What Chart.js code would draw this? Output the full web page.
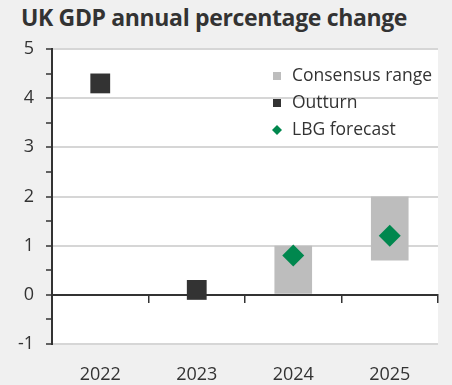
<!DOCTYPE html>
<html>
<head>
<meta charset="utf-8">
<script src="https://cdn.jsdelivr.net/npm/chart.js@4/dist/chart.umd.min.js"></script>
<style>
  html, body { margin: 0; padding: 0; background: #f0f0f0; }
  #wrap { position: relative; width: 452px; height: 385px; }
  #title { position: absolute; left: 21px; top: 1px; font-family: "Open Sans", sans-serif; font-weight: 700; font-size: 23px; color: #333; letter-spacing: -0.35px; white-space: nowrap; }
  canvas { position: absolute; left: 0; top: 0; }
</style>
</head>
<body>
<div id="wrap">
  <div id="title">UK GDP annual percentage change</div>
  <canvas id="c" width="452" height="385"></canvas>
</div>
<script>
const categories = ['2022', '2023', '2024', '2025'];
const consensusRange = [null, null, [0, 1.0], [0.7, 2.0]];
const outturn = [4.3, 0.1, null, null];
const lbgForecast = [null, null, 0.8, 1.2];
const seriesNames = ['Consensus range', 'Outturn', 'LBG forecast'];
const yMin = -1, yMax = 5;

const FONT = '"Open Sans", sans-serif';
const GREEN = '#00874e';
const DARK = '#333333';
const GREY = '#bdbdbd';
const GRIDC = '#d6d6d6';

const bgPlugin = {
  id: 'bg',
  beforeDraw(chart) {
    const {ctx, chartArea: a} = chart;
    ctx.save();
    ctx.fillStyle = '#ffffff';
    ctx.fillRect(a.left, a.top, a.right - a.left, a.bottom - a.top);
    ctx.restore();
  }
};

const legendPlugin = {
  id: 'insideLegend',
  afterDraw(chart) {
    const {ctx, chartArea: a} = chart;
    const x0 = a.left + 225;
    const rows = [a.top + 27, a.top + 54, a.top + 81];
    ctx.save();
    ctx.font = '17.5px ' + FONT;
    ctx.textBaseline = 'middle';
    chart.data.datasets.slice().reverse().forEach((ds, i) => {
      const y = rows[i];
      ctx.fillStyle = ds.legendColor;
      if (ds.pointStyle === 'rectRot') {
        ctx.beginPath();
        ctx.moveTo(x0, y - 5); ctx.lineTo(x0 + 5, y); ctx.lineTo(x0, y + 5); ctx.lineTo(x0 - 5, y);
        ctx.closePath(); ctx.fill();
      } else {
        ctx.fillRect(x0 - 4, y - 4, 8, 8);
      }
      ctx.fillStyle = DARK;
      ctx.fillText(ds.label, x0 + 15, y);
    });
    ctx.restore();
  }
};

new Chart(document.getElementById('c'), {
  data: {
    labels: categories,
    datasets: [
      {
        type: 'line', label: seriesNames[2], data: lbgForecast, showLine: false,
        pointStyle: 'rectRot', pointRadius: 11, pointHoverRadius: 11,
        backgroundColor: GREEN, borderColor: GREEN, borderWidth: 0, legendColor: GREEN, order: 1
      },
      {
        type: 'line', label: seriesNames[1], data: outturn, showLine: false,
        pointStyle: 'rect', pointRadius: 14, pointHoverRadius: 14,
        backgroundColor: DARK, borderColor: DARK, borderWidth: 0, legendColor: DARK, order: 2
      },
      {
        type: 'bar', label: seriesNames[0], data: consensusRange,
        backgroundColor: GREY, borderWidth: 0, legendColor: GREY,
        categoryPercentage: 1, barPercentage: 0.39, order: 3
      }
    ]
  },
  options: {
    responsive: false,
    animation: false,
    layout: { padding: { left: 6, right: 7, top: 49, bottom: 0 } },
    plugins: { legend: { display: false }, tooltip: { enabled: false }, title: { display: false } },
    scales: {
      x: {
        type: 'category', position: 'bottom', offset: true,
        grid: { display: false, drawTicks: false },
        border: { display: false },
        ticks: { font: { family: FONT, size: 18 }, color: DARK, padding: 20, maxRotation: 0 },
        afterFit: s => { s.height = 41; }
      },
      x2: {
        type: 'category', position: { y: 0 }, offset: true,
        grid: { offset: true, drawOnChartArea: false, drawTicks: true, tickLength: 7, color: DARK, lineWidth: 1.5 },
        border: { display: true, color: DARK, width: 2 },
        ticks: { display: false },
        afterFit: s => { s.height = 0; }
      },
      y: {
        min: yMin, max: yMax,
        grid: {
          color: c => (c.index % 2 === 0 ? GRIDC : 'rgba(255,255,255,0)'),
          tickColor: DARK, tickLength: 6, lineWidth: 2, tickWidth: 1.5, drawTicks: true, drawOnChartArea: true
        },
        border: { display: true, color: DARK, width: 2 },
        ticks: {
          stepSize: 0.5, padding: 12, color: DARK, autoSkip: false,
          font: { family: FONT, size: 18 },
          callback: (v, i) => (i % 2 === 0 ? String(Math.round(v)) : '')
        },
        afterFit: s => { s.width = 46; }
      }
    }
  },
  plugins: [bgPlugin, legendPlugin]
});
</script>
</body>
</html>
